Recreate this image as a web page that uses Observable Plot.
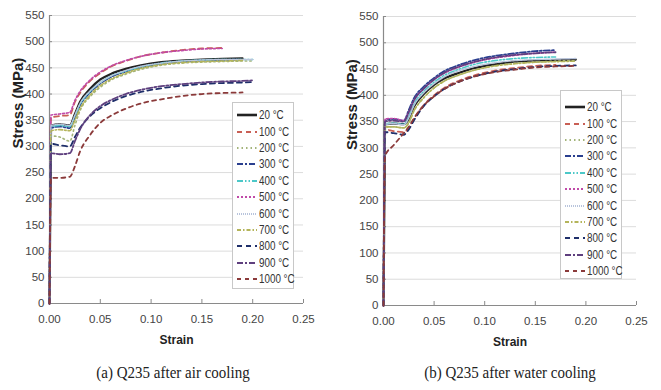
<!DOCTYPE html>
<html><head><meta charset="utf-8">
<script src="https://cdn.jsdelivr.net/npm/d3@7"></script>
<script src="https://cdn.jsdelivr.net/npm/@observablehq/plot@0.6"></script>
<style>
html,body{margin:0;padding:0;background:#fff;}
#wrap{position:relative;width:661px;height:390px;overflow:hidden;font-family:"Liberation Sans",Arial,sans-serif;}
.panel{position:absolute;top:0;}
.caption{position:absolute;font-family:"Liberation Serif","Times New Roman",serif;font-size:15px;color:#222;white-space:nowrap;transform:translateX(-50%) scaleY(1.15);}
.legend{position:absolute;background:#fff;border:1px solid #c8c8c8;padding-left:3px;padding-right:2px;font-size:12px;color:#333;box-sizing:border-box;}
.legend .row{display:flex;align-items:center;height:16.4px;white-space:nowrap;}
.legend svg{margin-right:1px;flex:none;}
.legend span{display:inline-block;transform:scaleX(0.82);transform-origin:left center;}
</style></head>
<body><div id="wrap"></div>
<script>
const strain = [0, 0.0015, 0.01, 0.02, 0.025, 0.03, 0.04, 0.05, 0.06, 0.075, 0.09, 0.11, 0.13, 0.15, 0.17, 0.19, 0.2];
const temps = ["20 °C","100 °C","200 °C","300 °C","400 °C","500 °C","600 °C","700 °C","800 °C","900 °C","1000 °C"];
const xTicks = [0, 0.05, 0.10, 0.15, 0.20, 0.25];
const yTicks = [0,50,100,150,200,250,300,350,400,450,500,550];

// (a) air cooling, stress (MPa) at each strain, null beyond fracture
const air20   = [0,340,342,340,362,385,410,428,438,448,455,461,464,466,467,468,null];
const air100  = [0,355,358,360,385,402,425,440,452,463,472,479,484,487,488,null,null];
const air200  = [0,320,318,310,340,368,395,413,426,438,447,455,459,461,462,463,463];
const air300  = [0,335,338,335,355,378,403,420,432,443,451,458,462,464,465,466,null];
const air400  = [0,338,340,338,358,380,405,422,434,444,452,459,463,465,466,466,466];
const air500  = [0,360,362,365,388,405,427,442,453,464,472,479,483,486,487,null,null];
const air600  = [0,340,342,340,360,382,406,422,434,445,453,459,463,465,466,466,466];
const air700  = [0,330,332,330,350,372,398,416,428,440,449,456,460,462,463,464,null];
const air800  = [0,305,302,300,318,335,358,373,384,396,404,411,416,419,421,422,423];
const air900  = [0,287,285,287,310,332,360,377,388,400,408,415,419,422,424,425,426];
const air1000 = [0,240,240,242,262,290,322,345,358,372,382,390,396,400,402,403,null];

// (b) water cooling
const wat20   = [0,345,346,345,355,378,403,420,432,443,452,459,464,466,467,468,null];
const wat100  = [0,335,332,330,338,355,382,400,414,428,438,447,452,456,458,null,null];
const wat200  = [0,340,340,338,348,370,396,414,427,439,448,456,461,463,465,466,null];
const wat300  = [0,352,355,352,372,394,417,433,446,458,467,475,480,484,486,null,null];
const wat400  = [0,345,347,345,360,383,408,425,438,450,459,466,470,472,473,null,null];
const wat500  = [0,355,356,352,368,390,413,430,442,454,463,471,476,480,482,null,null];
const wat600  = [0,345,346,344,357,380,405,422,435,447,455,462,466,468,469,470,null];
const wat700  = [0,340,340,338,348,370,396,414,427,439,448,456,460,463,464,465,null];
const wat800  = [0,330,328,325,335,352,380,398,412,426,436,445,450,454,456,457,null];
const wat900  = [0,350,352,350,368,390,413,430,443,455,464,472,477,480,482,null,null];
const wat1000 = [0,285,305,328,340,356,381,398,412,426,436,444,449,453,455,456,null];

const airSeries = [air20,air100,air200,air300,air400,air500,air600,air700,air800,air900,air1000];
const watSeries = [wat20,wat100,wat200,wat300,wat400,wat500,wat600,wat700,wat800,wat900,wat1000];

const colors = ["#222222","#c95f55","#a3b47a","#2a3f8f","#4cc8c8","#c04aa8","#b8c4dc","#b4b45a","#1f2f6a","#5e3f7e","#8b3a3a"];
const dashes = ["none","5,4","1.5,3","6,2,2,2","6,2,1.5,2,1.5,2","2,2","1,1","4,2,1.5,2","5,4","6,2,2,2","4,4"];
const widths = [2.2,1.8,1.6,1.8,1.6,1.6,1.4,1.6,1.8,1.8,1.8];

function makePanel(series, opt){
  const marks = [
    Plot.ruleY(yTicks.slice(1), {stroke:"#dcdcdc", strokeWidth:1}),
    Plot.ruleY([0], {stroke:"#8a8a8a", strokeWidth:1.2}),
    Plot.ruleX([0], {stroke:"#8a8a8a", strokeWidth:1.2}),
    Plot.axisX({ticks: xTicks, tickFormat: d3.format(".2f"), tickSize: -4, tickPadding: 15, stroke:"#8a8a8a", fill:"#444", fontSize: 11.5, label: null}),
    Plot.axisY({ticks: yTicks, tickSize: -3, tickPadding: 8, stroke:"#8a8a8a", fill:"#444", fontSize: 11.5, label: null}),
    Plot.text(["Stress (MPa)"], {frameAnchor:"left", dx: opt.ylabDx, dy: -11, rotate:-90, fontWeight:"bold", fontSize:15, fill:"#222", fontFamily:"Liberation Sans, Arial, sans-serif", letterSpacing: "0.4px"}),
    Plot.text(["Strain"], {frameAnchor:"bottom", dy: 40, fontWeight:"bold", fontSize:12, fill:"#222", fontFamily:"Liberation Sans, Arial, sans-serif"})
  ];
  series.forEach((vals, i) => {
    const data = strain.map((s, j) => ({s, v: vals[j]})).filter(d => d.v != null);
    marks.push(Plot.line(data, {x:"s", y:"v", stroke: colors[i], strokeWidth: widths[i], strokeDasharray: dashes[i], curve:"monotone-x"}));
  });
  return Plot.plot({
    width: opt.width, height: 355,
    marginLeft: opt.ml, marginRight: opt.mr, marginTop: opt.mt, marginBottom: opt.mb,
    x: {domain:[0,0.25]}, y: {domain:[0,550]},
    style: {fontFamily: '"Liberation Sans",Arial,sans-serif', background:"transparent"},
    marks
  });
}

function makeLegend(w, h, padTop){
  const div = document.createElement("div");
  div.className = "legend";
  div.style.width = w + "px"; div.style.height = h + "px"; div.style.paddingTop = padTop + "px";
  temps.forEach((t, i) => {
    const row = document.createElement("div");
    row.className = "row";
    const ns = "http://www.w3.org/2000/svg";
    const sv = document.createElementNS(ns, "svg");
    sv.setAttribute("width", 22); sv.setAttribute("height", 10);
    const ln = document.createElementNS(ns, "line");
    ln.setAttribute("x1", 1); ln.setAttribute("x2", 21); ln.setAttribute("y1", 5); ln.setAttribute("y2", 5);
    ln.setAttribute("stroke", colors[i]); ln.setAttribute("stroke-width", widths[i] + 0.4);
    if (dashes[i] !== "none") ln.setAttribute("stroke-dasharray", dashes[i]);
    sv.appendChild(ln);
    row.appendChild(sv);
    const sp = document.createElement("span"); sp.textContent = t;
    row.appendChild(sp);
    div.appendChild(row);
  });
  return div;
}

const wrap = document.getElementById("wrap");
const panels = [
  {series: airSeries, left: 0, width: 330, ml: 49, mr: 27, mt: 15, mb: 52, ylabDx: -31, legL: 232, legT: 102, legW: 62, legH: 187, legPad: 4, cap: "(a) Q235 after air cooling", capX: 173},
  {series: watSeries, left: 330, width: 331, ml: 53, mr: 25, mt: 16, mb: 50, ylabDx: -31, legL: 230, legT: 90, legW: 62, legH: 189, legPad: 8, cap: "(b) Q235 after water cooling", capX: 180}
];
panels.forEach(p => {
  const d = document.createElement("div");
  d.className = "panel"; d.style.left = p.left + "px"; d.style.width = p.width + "px"; d.style.height = "390px";
  d.appendChild(makePanel(p.series, p));
  const lg = makeLegend(p.legW, p.legH, p.legPad); lg.style.left = p.legL + "px"; lg.style.top = p.legT + "px";
  d.appendChild(lg);
  const c = document.createElement("div"); c.className = "caption"; c.textContent = p.cap;
  c.style.left = p.capX + "px"; c.style.top = "364px";
  d.appendChild(c);
  wrap.appendChild(d);
});
</script></body></html>
